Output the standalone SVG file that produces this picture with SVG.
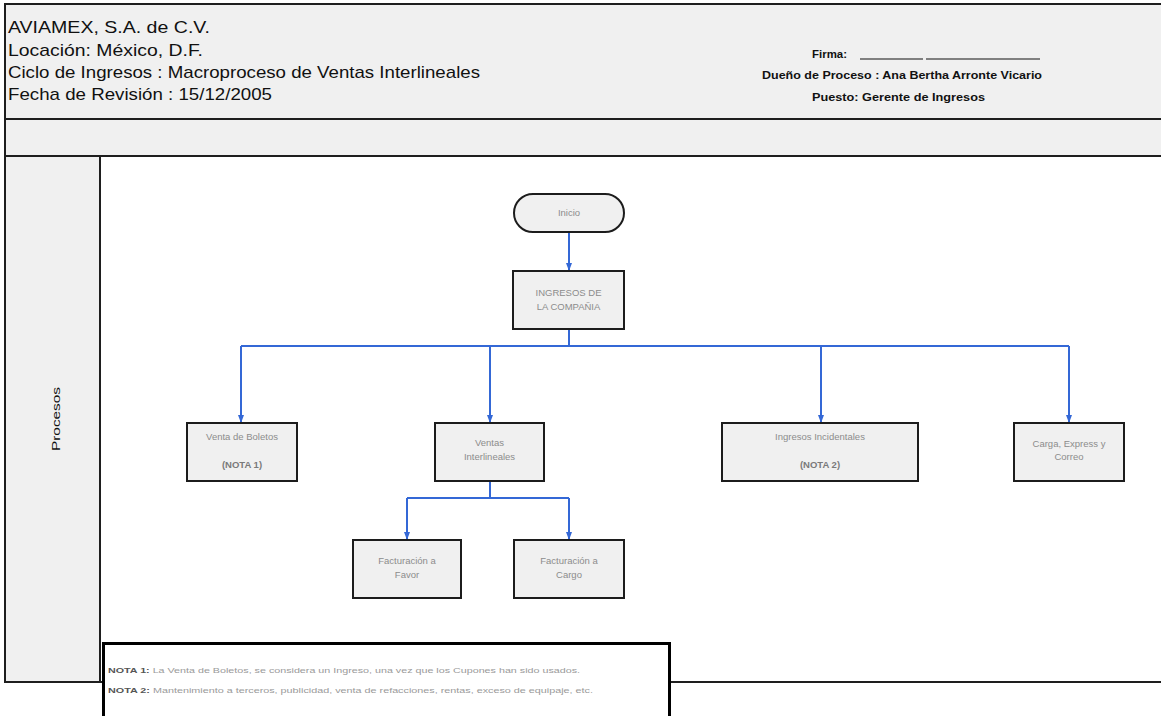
<svg xmlns="http://www.w3.org/2000/svg" width="1161" height="716" viewBox="0 0 1161 716">
  <style>
    .frame { fill: #f0f0f0; stroke: #1e1e1e; stroke-width: 2; }
    .lane { fill: #ffffff; stroke: #1e1e1e; stroke-width: 2; }
    .hdr { font-family: "Liberation Sans", Arial, sans-serif; font-size: 17px; fill: #111111; }
    .sig { font-family: "Liberation Sans", Arial, sans-serif; font-size: 10.5px; font-weight: bold; fill: #111111; }
    .lanetitle { font-family: "Liberation Sans", Arial, sans-serif; font-size: 11px; fill: #111111; text-anchor: middle; }
    .box { fill: #f0f0f0; stroke: #1c1c1c; stroke-width: 2; }
    .lbl { font-family: "Liberation Sans", Arial, sans-serif; font-size: 9.5px; fill: #8c8c8c; text-anchor: middle; }
    .lblb { font-family: "Liberation Sans", Arial, sans-serif; font-size: 9.5px; font-weight: bold; fill: #7a7a7a; text-anchor: middle; }
    .conn { fill: none; stroke: #3468d6; stroke-width: 2; }
    .note { font-family: "Liberation Sans", Arial, sans-serif; font-size: 7.5px; fill: #9a9a9a; }
    .noteb { font-weight: bold; fill: #555555; }
  </style>
  <defs>
    <marker id="arrow" markerWidth="8" markerHeight="6" refX="7" refY="3" orient="auto" markerUnits="userSpaceOnUse">
      <path d="M0,0 L8,3 L0,6 Z" fill="#3468d6"/>
    </marker>
  </defs>

  <rect width="1161" height="716" fill="#ffffff"/>

  <!-- sheet frame: header, blank band, lane -->
  <g id="frame">
    <rect class="frame" x="5" y="4" width="1170" height="115"/>
    <rect class="frame" x="5" y="119" width="1170" height="37"/>
    <rect class="frame" x="5" y="156" width="95" height="526"/>
    <rect class="lane" x="100" y="156" width="1075" height="526"/>
  </g>

  <!-- header text -->
  <g id="header">
    <text class="hdr" x="8" y="33" textLength="202" lengthAdjust="spacingAndGlyphs">AVIAMEX, S.A. de C.V.</text>
    <text class="hdr" x="8" y="56" textLength="195" lengthAdjust="spacingAndGlyphs">Locación: México, D.F.</text>
    <text class="hdr" x="8" y="78" textLength="472" lengthAdjust="spacingAndGlyphs">Ciclo de Ingresos : Macroproceso de Ventas Interlineales</text>
    <text class="hdr" x="8" y="100" textLength="264" lengthAdjust="spacingAndGlyphs">Fecha de Revisión : 15/12/2005</text>
    <text class="sig" x="812" y="58" textLength="35" lengthAdjust="spacingAndGlyphs">Firma:</text>
    <line x1="860" y1="59" x2="923" y2="59" stroke="#111" stroke-width="1.2"/>
    <line x1="926" y1="59" x2="1040" y2="59" stroke="#111" stroke-width="1.2"/>
    <text class="sig" x="762" y="79" textLength="280" lengthAdjust="spacingAndGlyphs">Dueño de Proceso : Ana Bertha Arronte Vicario</text>
    <text class="sig" x="812" y="101" textLength="173" lengthAdjust="spacingAndGlyphs">Puesto: Gerente de Ingresos</text>
  </g>

  <!-- lane title -->
  <g id="lane-procesos">
    <text class="lanetitle" transform="translate(60,419) rotate(-90)" textLength="64" lengthAdjust="spacingAndGlyphs">Procesos</text>
  </g>

  <!-- connectors -->
  <g id="connectors">
    <path class="conn" d="M569,233 V270" marker-end="url(#arrow)"/>
    <path class="conn" d="M569,329 V346 M241,346 H1069"/>
    <path class="conn" d="M241,346 V422" marker-end="url(#arrow)"/>
    <path class="conn" d="M490,346 V422" marker-end="url(#arrow)"/>
    <path class="conn" d="M821,346 V422" marker-end="url(#arrow)"/>
    <path class="conn" d="M1069,346 V422" marker-end="url(#arrow)"/>
    <path class="conn" d="M490,481 V498 M407,498 H569"/>
    <path class="conn" d="M407,498 V539" marker-end="url(#arrow)"/>
    <path class="conn" d="M569,498 V539" marker-end="url(#arrow)"/>
  </g>

  <!-- nodes -->
  <g id="node-inicio">
    <rect class="box" x="514" y="194" width="110" height="38" rx="19" ry="19"/>
    <text class="lbl" x="569" y="216">Inicio</text>
  </g>
  <g id="node-ingresos-compania">
    <rect class="box" x="513" y="271" width="111" height="58"/>
    <text class="lbl" x="568.5" y="296">INGRESOS DE</text>
    <text class="lbl" x="568.5" y="310">LA COMPAÑIA</text>
  </g>
  <g id="node-venta-boletos">
    <rect class="box" x="187" y="423" width="110" height="58"/>
    <text class="lbl" x="242" y="440">Venta de Boletos</text>
    <text class="lblb" x="242" y="468">(NOTA 1)</text>
  </g>
  <g id="node-ventas-interlineales">
    <rect class="box" x="435" y="423" width="109" height="58"/>
    <text class="lbl" x="489.5" y="446">Ventas</text>
    <text class="lbl" x="489.5" y="460">Interlineales</text>
  </g>
  <g id="node-ingresos-incidentales">
    <rect class="box" x="722" y="423" width="196" height="58"/>
    <text class="lbl" x="820" y="440">Ingresos Incidentales</text>
    <text class="lblb" x="820" y="468">(NOTA 2)</text>
  </g>
  <g id="node-carga">
    <rect class="box" x="1014" y="423" width="110" height="58"/>
    <text class="lbl" x="1069" y="447">Carga, Express y</text>
    <text class="lbl" x="1069" y="460">Correo</text>
  </g>
  <g id="node-facturacion-favor">
    <rect class="box" x="353" y="540" width="108" height="58"/>
    <text class="lbl" x="407" y="564">Facturación a</text>
    <text class="lbl" x="407" y="578">Favor</text>
  </g>
  <g id="node-facturacion-cargo">
    <rect class="box" x="514" y="540" width="110" height="58"/>
    <text class="lbl" x="569" y="564">Facturación a</text>
    <text class="lbl" x="569" y="578">Cargo</text>
  </g>

  <!-- notes -->
  <g id="notes">
    <rect x="103.5" y="643.5" width="566" height="80" fill="#ffffff" stroke="#000000" stroke-width="3"/>
    <text class="note" x="108" y="673" textLength="472" lengthAdjust="spacingAndGlyphs"><tspan class="noteb">NOTA 1:</tspan> La Venta de Boletos, se considera un Ingreso, una vez que los Cupones han sido usados.</text>
    <text class="note" x="108" y="693" textLength="485" lengthAdjust="spacingAndGlyphs"><tspan class="noteb">NOTA 2:</tspan> Mantenimiento a terceros, publicidad, venta de refacciones, rentas, exceso de equipaje, etc.</text>
  </g>
</svg>
